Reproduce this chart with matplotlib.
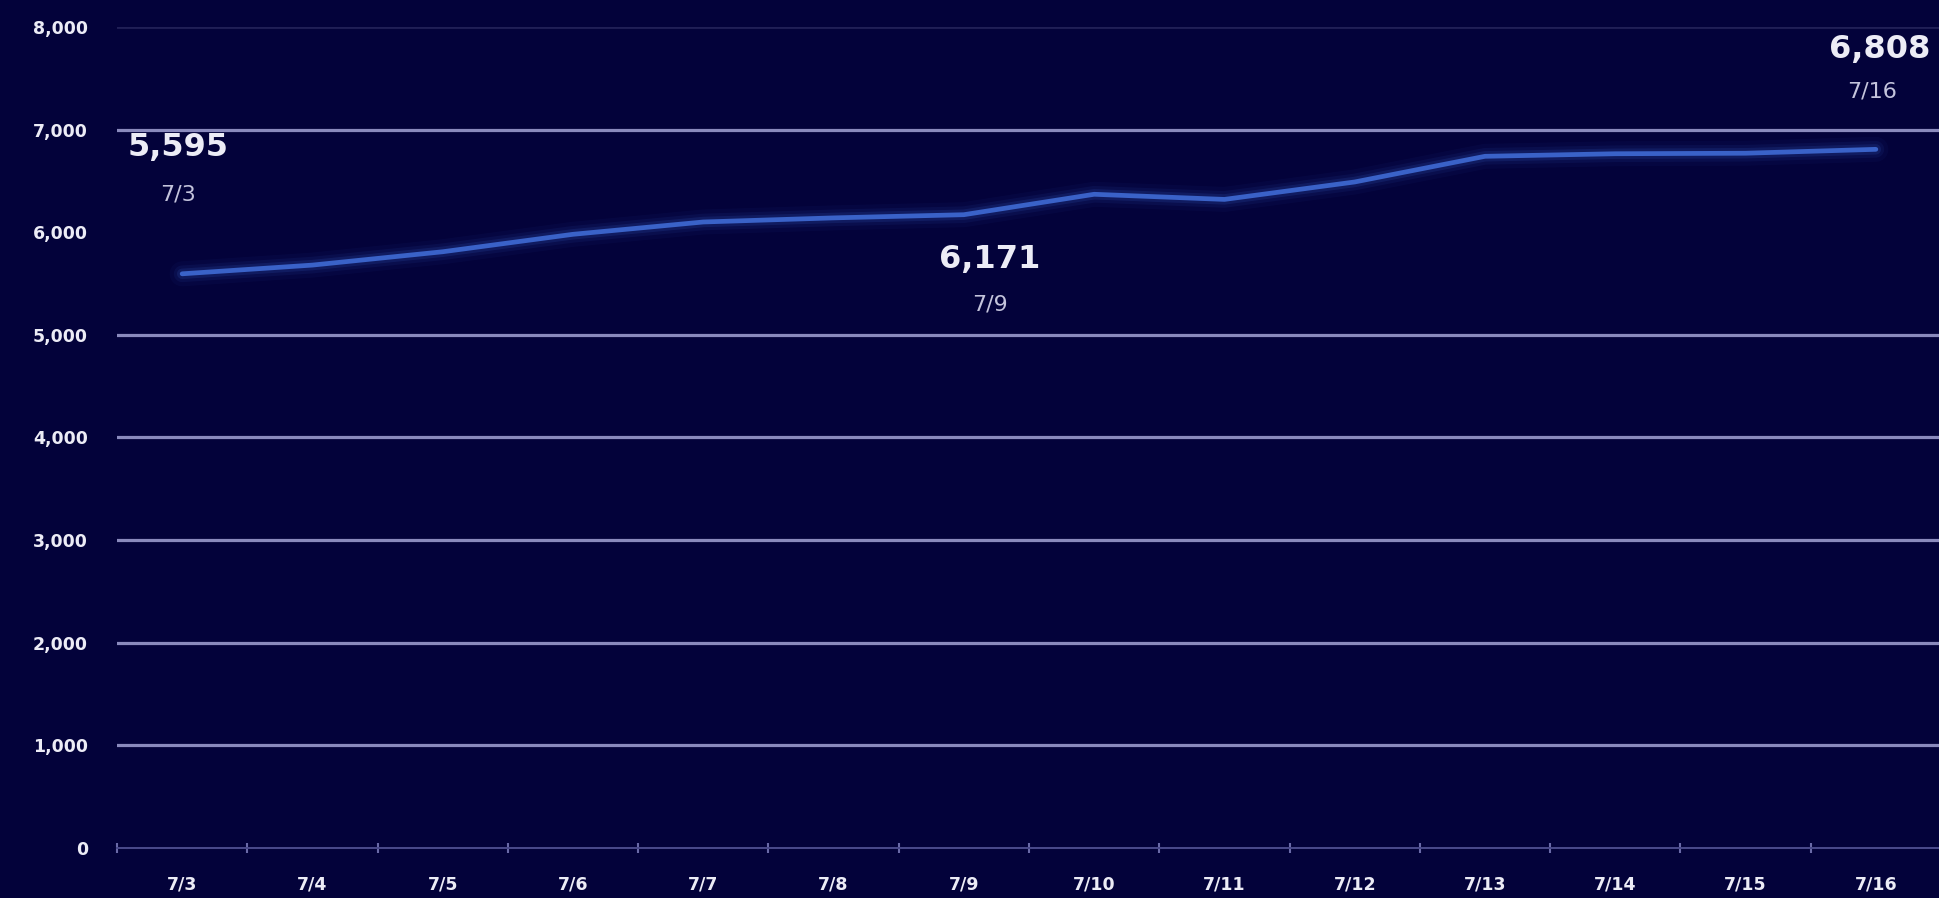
import matplotlib
matplotlib.use("Agg")
import matplotlib.pyplot as plt
import numpy as np

# ---- data ----
dates = ['7/3', '7/4', '7/5', '7/6', '7/7', '7/8', '7/9', '7/10',
         '7/11', '7/12', '7/13', '7/14', '7/15', '7/16']
values = [5595, 5680, 5810, 5980, 6100, 6140, 6171, 6370,
          6320, 6490, 6740, 6765, 6770, 6808]
y_ticks = [0, 1000, 2000, 3000, 4000, 5000, 6000, 7000, 8000]
bright_grid = [1000, 2000, 3000, 4000, 5000, 7000]
faint_grid = [8000]
highlights = [0, 6, 13]          # indices of annotated points

BG = '#03023a'
GRID = '#8a8abd'
LINE = '#3a62c8'
TXT = '#ececf6'
TXT2 = '#c4c4dc'

W, H, DPI = 1939, 898, 100
fig = plt.figure(figsize=(W / DPI, H / DPI), dpi=DPI, facecolor=BG)
left_px, right_px, bottom_px, top_px = 117, 1941, 848, 27
ax = fig.add_axes([left_px / W, (H - bottom_px) / H,
                   (right_px - left_px) / W, (bottom_px - top_px) / H])
ax.set_facecolor(BG)

x = np.arange(len(dates))
ax.set_xlim(-0.5, len(dates) - 0.5)
ax.set_ylim(0, 8000)

# gridlines
for g in bright_grid:
    ax.axhline(g, color=GRID, lw=2.3, zorder=1)
for g in faint_grid:
    ax.axhline(g, color=GRID, lw=2.0, alpha=0.22, zorder=1)

# glowing line
for lw, a in [(18, 0.05), (12, 0.09), (7.5, 0.16)]:
    ax.plot(x, values, color=LINE, lw=lw, alpha=a, solid_capstyle='round',
            solid_joinstyle='round', zorder=2)
ax.plot(x, values, color=LINE, lw=3.4, solid_capstyle='round',
        solid_joinstyle='round', zorder=3)

# axes styling
for s in ['top', 'right', 'left']:
    ax.spines[s].set_visible(False)
ax.spines['bottom'].set_color('#4a4a8c')
ax.spines['bottom'].set_linewidth(1.4)

ax.set_yticks(y_ticks)
ax.set_yticklabels([f'{v:,}' for v in y_ticks])
ax.tick_params(axis='y', length=0, pad=21, labelsize=12.5, labelcolor=TXT)

ax.set_xticks(x)
ax.set_xticklabels(dates)
ax.tick_params(axis='x', length=0, pad=20, labelsize=12.5, labelcolor=TXT)
ax.set_xticks(np.arange(-0.5, len(dates), 1.0), minor=True)
ax.tick_params(axis='x', which='minor', length=7, direction='inout',
               color='#6a6aa8', width=1.5)

for lab in ax.get_yticklabels() + ax.get_xticklabels():
    lab.set_fontweight('bold')

# annotations: (number offset, date offset) in pixels from the point
offsets = {0: ((-4, 126), (-4, 79)),
           6: ((26, -45), (26, -90)),
           13: ((4, 100), (-4, 58))}
for i in highlights:
    (nx, ny), (dx, dy) = offsets[i]
    ax.annotate(f'{values[i]:,}', xy=(i, values[i]), xytext=(nx, ny),
                textcoords='offset pixels', ha='center', va='center',
                fontsize=23, fontweight='bold', color=TXT, zorder=5,
                annotation_clip=False)
    ax.annotate(dates[i], xy=(i, values[i]), xytext=(dx, dy),
                textcoords='offset pixels', ha='center', va='center',
                fontsize=16, color=TXT2, zorder=5, annotation_clip=False)

fig.savefig('out.png', dpi=DPI, facecolor=BG)
